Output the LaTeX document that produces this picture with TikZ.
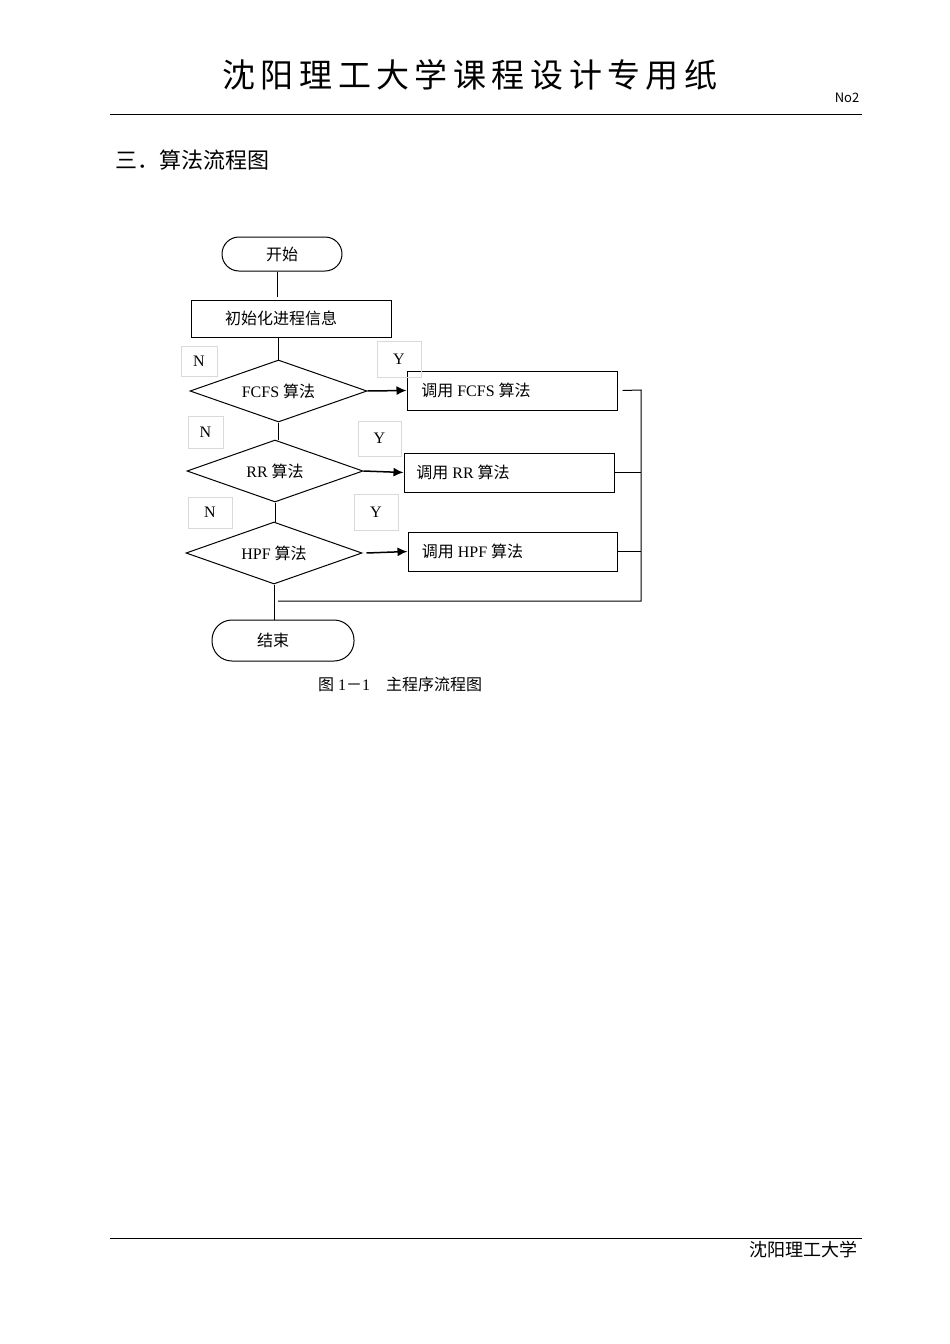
\documentclass[tikz,border=0pt]{standalone}
\usepackage{fontspec}
\setmainfont{Liberation Serif}
\newfontfamily\cjk{Noto Sans CJK SC}
\usetikzlibrary{shapes.geometric,arrows.meta}
\tikzset{
  base/.style={draw,line width=1pt,font=\fontsize{16}{18}\selectfont,inner sep=0pt},
  term/.style={base,rounded corners=17pt},
  proc/.style={base,rectangle},
  dec/.style={base,diamond},
  lab/.style={draw=gray!30,line width=0.6pt,font=\fontsize{16}{18}\selectfont,inner sep=0pt},
  ln/.style={line width=1pt},
  arr/.style={line width=1.5pt,-{Latex[length=10pt,width=9pt]}}
}
\begin{document}
\begin{tikzpicture}[x=1pt,y=-1pt]
\useasboundingbox (0,0) rectangle (950,1344);
% header
\node[font=\cjk\fontsize{33}{36}\selectfont] (title) at (470,75) {沈\,阳\,理\,工\,大\,学\,课\,程\,设\,计\,专\,用\,纸};
\node[font=\cjk\fontsize{13}{14}\selectfont] (no) at (847,98) {No2};
\draw[line width=1pt] (110,114) -- (862,114);
\node[anchor=west,font=\cjk\fontsize{22}{24}\selectfont] (sec) at (112,160) {三．算法流程图};
% footer
\draw[line width=0.8pt] (110,1238) -- (862,1238);
\node[anchor=east,font=\cjk\fontsize{18}{20}\selectfont] (foot) at (861,1250) {沈阳理工大学};
% flowchart
\node[term,minimum width=120pt,minimum height=34pt] (start) at (282,254) {\cjk 开始};
\node[proc,minimum width=200pt,minimum height=37pt] (init) at (291,318.5) {\hspace*{-20pt}\cjk 初始化进程信息};
\node[dec,minimum width=177pt,minimum height=62pt,aspect=2.85] (d1) at (278.5,391) {FCFS {\cjk 算法}};
\node[dec,minimum width=176pt,minimum height=62pt,aspect=2.85] (d2) at (275,471) {RR {\cjk 算法}};
\node[dec,minimum width=176pt,minimum height=62pt,aspect=2.85] (d3) at (274,553) {HPF {\cjk 算法}};
\node[proc,minimum width=210pt,minimum height=39pt] (b1) at (512,390.5) {\hspace*{-72pt}{\cjk 调用} FCFS {\cjk 算法}};
\node[proc,minimum width=210pt,minimum height=39pt] (b2) at (509,472.5) {\hspace*{-92pt}{\cjk 调用} RR {\cjk 算法}};
\node[proc,minimum width=209pt,minimum height=39pt] (b3) at (512.5,551.5) {\hspace*{-80pt}{\cjk 调用} HPF {\cjk 算法}};
\node[term,minimum width=142pt,minimum height=41pt,rounded corners=20pt] (end) at (283,640.5) {\hspace*{-20pt}\cjk 结束};
% labels
\node[lab,minimum width=36pt,minimum height=30pt] (n1) at (199,361) {N};
\node[lab,minimum width=44pt,minimum height=36pt] (y1) at (399,359) {Y};
\node[lab,minimum width=35pt,minimum height=32pt] (n2) at (205.5,432) {N};
\node[lab,minimum width=43pt,minimum height=35pt] (y2) at (379.5,438.5) {Y};
\node[lab,minimum width=44pt,minimum height=31pt] (n3) at (210,512.5) {N};
\node[lab,minimum width=44pt,minimum height=36pt] (y3) at (376,512) {Y};
% connectors
\draw[ln] (start.south -| 277,0) -- (277,297);
\draw[ln] (init.south -| d1.north) -- (d1.north);
\draw[ln] (d1.south) -- (d2.north -| d1.south);
\draw[ln] (d2.south) -- (d3.north -| d2.south);
\draw[arr] (d1.east) -- (b1.west);
\draw[arr] (d2.east) -- (b2.west);
\draw[arr] (d3.east)++(4,0) -- (b3.west);
\coordinate (bus1) at (641,390);
\coordinate (bus3) at (641,601);
\draw[ln] (b1.east)++(5,0) -- (bus1) -- (bus3) -- (278,601);
\draw[ln] (b2.east) -- (b2.east -| bus1);
\draw[ln] (b3.east) -- (b3.east -| bus1);
\draw[ln] (d3.south) -- (end.north -| d3.south);
\node[font=\fontsize{16}{18}\selectfont] (cap) at (400,684) {{\cjk 图} 1{\cjk －}1\quad{\cjk 主程序流程图}};
\end{tikzpicture}
\end{document}
